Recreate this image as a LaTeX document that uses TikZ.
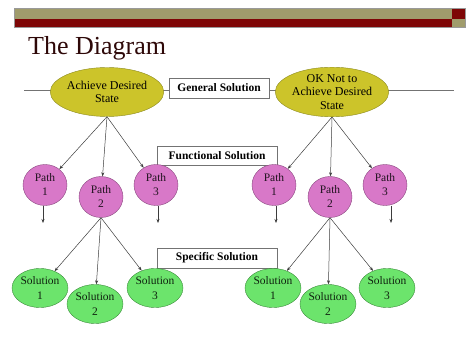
\documentclass[tikz,border=0pt]{standalone}
\usepackage{fontspec}
\setmainfont{Liberation Serif}
\usetikzlibrary{arrows.meta, shapes.geometric}
\definecolor{BarOlive}{HTML}{A09C6C}
\definecolor{BarRed}{HTML}{7E0606}
\definecolor{TitleRed}{HTML}{2E0808}
\definecolor{GoalFill}{HTML}{CCC42A}
\definecolor{GoalLine}{HTML}{8C8A20}
\definecolor{PathFill}{HTML}{D878C8}
\definecolor{PathLine}{HTML}{8A4A80}
\definecolor{SolFill}{HTML}{6CE46C}
\definecolor{SolLine}{HTML}{3A8A3A}
\definecolor{LinkGray}{HTML}{3C3C3C}

\begin{document}
\begin{tikzpicture}[x=1pt,y=-1pt,
  goal/.style={ellipse, draw=GoalLine, fill=GoalFill, minimum width=95pt, minimum height=49pt,
    inner sep=0pt, align=center, font=\fontsize{12}{13.5}\selectfont, text=black},
  pathnode/.style={ellipse, draw=PathLine, fill=PathFill, minimum width=44pt, minimum height=41pt,
    inner sep=0pt, align=center, font=\fontsize{11.5}{14}\selectfont, text=PathLine!25!black},
  solnode/.style={ellipse, draw=SolLine, fill=SolFill, minimum width=56pt, minimum height=39pt,
    inner sep=0pt, align=center, font=\fontsize{11.5}{15}\selectfont, text=SolLine!25!black},
  tagbox/.style={draw=black!55, fill=white, inner sep=0pt, font=\bfseries\fontsize{11.5}{12}\selectfont},
  link/.style={LinkGray, line width=0.5pt, -{Stealth[length=4pt,width=3pt]}},
  rule/.style={black!55, line width=0.6pt}
]
  \useasboundingbox (0,0) rectangle (474,355);
  % top bars
  \fill[BarOlive] (14,8) rectangle (452,19);
  \fill[BarRed] (14,19) rectangle (452,27);
  \fill[BarRed] (452,8) rectangle (465,19);
  \fill[BarOlive] (452,19) rectangle (465,27);
  \draw[black!40, line width=0.3pt] (14,8) rectangle (465,27);
  \node[anchor=base west, inner sep=0pt, text=TitleRed, font=\fontsize{26}{26}\selectfont] (title) at (28,55) {The Diagram};

  % general level
  \coordinate (lineL) at (24,90);
  \coordinate (lineR) at (454,90);
  \draw[rule] (lineL) -- (lineR);
  \node[goal] (achieve) at (107,92) {Achieve Desired\\State};
  \node[goal] (oknot) at (332,92) {OK Not to\\Achieve Desired\\State};
  \node[tagbox, minimum width=100pt, minimum height=20pt] (general) at (219,88) {General Solution};

  % functional level
  \node[tagbox, minimum width=120pt, minimum height=19pt] (functional) at (217,155.5) {Functional Solution};
  \node[pathnode] (pa1) at (45,185) {Path\\1};
  \node[pathnode] (pa2) at (101,197) {Path\\2};
  \node[pathnode] (pa3) at (156,185) {Path\\3};
  \node[pathnode] (pb1) at (274,185) {Path\\1};
  \node[pathnode] (pb2) at (330,197) {Path\\2};
  \node[pathnode] (pb3) at (385,185) {Path\\3};
  \foreach \p in {pa1,pa2,pa3} \draw[link] (achieve.south) -- (\p);
  \foreach \p in {pb1,pb2,pb3} \draw[link] (oknot.south) -- (\p);

  % loose ends
  \coordinate (enda1) at (43,223);
  \coordinate (enda3) at (158,223);
  \coordinate (endb1) at (276,223);
  \coordinate (endb3) at (391,223);
  \draw[link] (pa1.south -| enda1) -- (enda1);
  \draw[link] (pa3.south -| enda3) -- (enda3);
  \draw[link] (pb1.south -| endb1) -- (endb1);
  \draw[link] (pb3.south -| endb3) -- (endb3);

  % specific level
  \node[tagbox, minimum width=120pt, minimum height=20pt] (specific) at (217,258) {Specific Solution};
  \node[solnode] (sa1) at (40,288) {Solution\\1};
  \node[solnode] (sa2) at (95,304) {Solution\\2};
  \node[solnode] (sa3) at (155,288) {Solution\\3};
  \node[solnode] (sb1) at (273,288) {Solution\\1};
  \node[solnode] (sb2) at (328,304) {Solution\\2};
  \node[solnode] (sb3) at (387,288) {Solution\\3};
  \foreach \s in {sa1,sa2,sa3} \draw[link] (pa2.south) -- (\s);
  \foreach \s in {sb1,sb2,sb3} \draw[link] (pb2.south) -- (\s);
\end{tikzpicture}
\end{document}
